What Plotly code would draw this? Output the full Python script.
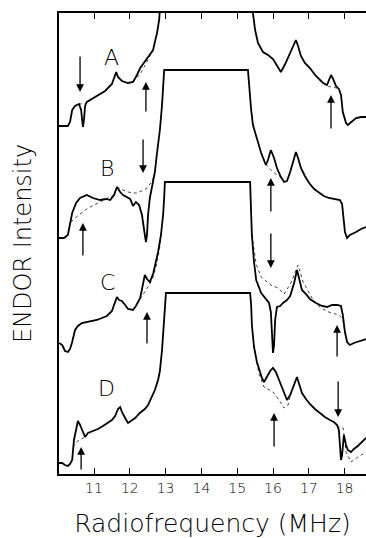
import plotly.graph_objects as go

# ENDOR spectra A-D: frequency (MHz) and intensity (arb. units, stacked)
a_freq = [10.02, 10.27, 10.33, 10.39, 10.47, 10.58, 10.64, 10.67, 10.69, 10.72, 10.75, 10.80, 11.03, 11.31,
          11.50, 11.59, 11.62, 11.67, 11.78, 11.95, 12.09, 12.20, 12.29, 12.37, 12.45, 12.51, 12.59, 12.65,
          12.70, 12.76, 12.82, 12.84, 12.87, 12.90, 15.40, 15.42, 15.44, 15.50, 15.58, 15.72, 15.86, 16.00,
          16.11, 16.22, 16.34, 16.48, 16.59, 16.64, 16.70, 16.78, 16.89, 17.03, 17.20, 17.40, 17.51, 17.56,
          17.62, 17.68, 17.76, 17.84, 17.90, 17.95, 18.04, 18.09, 18.18, 18.32, 18.46, 18.60]
a_int = [348, 348, 352, 364, 368, 370, 364, 350, 347, 354, 368, 372, 377, 383,
         390, 401, 402, 397, 393, 391, 392, 399, 406, 410, 414, 417, 420, 424,
         432, 441, 454, 461, 480, 500, 500, 480, 461, 444, 431, 422, 419, 415,
         409, 402, 410, 422, 430, 434, 428, 418, 411, 406, 398, 391, 389, 394,
         399, 395, 388, 385, 379, 362, 351, 349, 352, 356, 357, 357]
a_dot_freq = [10.58, 10.64, 10.69, 10.75, None, 12.09, 12.20, 12.29, 12.37, 12.45, 12.51, 12.59, None,
              17.40, 17.51, 17.62, 17.68, 17.76, 17.84]
a_dot_int = [370, 370, 371, 370, None, 392, 396, 400, 405, 410, 415, 420, None,
             391, 388, 387, 387, 386, 385]

b_freq = [10.02, 10.16, 10.27, 10.33, 10.39, 10.50, 10.61, 10.80, 10.97, 11.17, 11.34, 11.45, 11.56, 11.64,
          11.73, 11.81, 11.92, 12.01, 12.09, 12.17, 12.26, 12.34, 12.40, 12.45, 12.48, 12.51, 12.56, 12.62,
          12.70, 12.76, 12.84, 12.90, 12.93, 12.96, 15.30, 15.33, 15.39, 15.44, 15.53, 15.67, 15.80, 15.86,
          15.94, 16.03, 16.11, 16.22, 16.31, 16.39, 16.48, 16.59, 16.64, 16.70, 16.78, 16.89, 17.01, 17.15,
          17.29, 17.42, 17.56, 17.73, 17.87, 17.93, 17.98, 18.01, 18.07, 18.15, 18.32, 18.46, 18.60]
b_int = [236, 236, 239, 249, 261, 271, 276, 279, 276, 274, 275, 274, 279, 287,
         282, 279, 277, 275, 268, 272, 269, 259, 244, 232, 239, 259, 276, 286,
         302, 321, 344, 369, 394, 404, 404, 389, 364, 349, 337, 321, 309, 314,
         324, 316, 306, 297, 292, 293, 302, 316, 322, 316, 306, 298, 291, 285,
         281, 278, 276, 275, 274, 270, 256, 242, 236, 239, 242, 245, 247]
b_dot_freq = [10.36, 10.47, 10.61, 10.80, 11.00, 11.17, 11.34, 11.45, 11.56, None,
              11.64, 11.73, 11.81, 11.95, 12.09, 12.20, 12.34, 12.45, 12.51, 12.62, 12.70, None,
              15.67, 15.80, 15.94, 16.08, 16.22]
b_dot_int = [252, 256, 260, 265, 269, 272, 275, 277, 279, None,
             287, 285, 284, 282, 281, 281, 283, 285, 288, 292, 302, None,
             321, 310, 304, 300, 297]

c_freq = [10.02, 10.11, 10.19, 10.27, 10.33, 10.39, 10.47, 10.55, 10.66, 10.80, 10.94, 11.08, 11.22, 11.36,
          11.50, 11.59, 11.64, 11.70, 11.78, 11.87, 11.95, 12.09, 12.17, 12.29, 12.37, 12.42, 12.48, 12.56,
          12.65, 12.70, 12.79, 12.87, 12.93, 12.96, 12.98, 15.36, 15.39, 15.41, 15.47, 15.53, 15.67, 15.80,
          15.89, 15.94, 15.97, 16.00, 16.03, 16.06, 16.11, 16.20, 16.28, 16.39, 16.48, 16.59, 16.67, 16.73,
          16.81, 16.92, 17.03, 17.20, 17.37, 17.51, 17.65, 17.79, 17.90, 17.95, 18.01, 18.07, 18.15, 18.26,
          18.43, 18.60]
c_int = [131, 129, 123, 122, 125, 132, 144, 148, 151, 152, 153, 154, 156, 158,
         163, 171, 177, 174, 173, 169, 165, 164, 168, 176, 189, 199, 195, 192,
         200, 208, 222, 239, 259, 276, 292, 292, 269, 239, 212, 194, 181, 175,
         171, 162, 144, 121, 129, 154, 167, 168, 171, 174, 178, 191, 204, 196,
         184, 180, 175, 171, 168, 167, 169, 169, 168, 159, 142, 132, 129, 131,
         133, 135]
c_dot_freq = [12.29, 12.42, 12.56, 12.65, 12.74, 12.84, 12.87, None,
              15.41, 15.47, 15.53, 15.67, 15.80, 15.94, 16.14, 16.31, 16.50, 16.70, 16.84, 17.12,
              17.34, 17.56, 17.84, 17.95, 18.01]
c_dot_int = [175, 182, 190, 197, 208, 228, 239, None,
             239, 222, 210, 197, 193, 189, 186, 180, 191, 209, 192, 174,
             166, 162, 159, 155, 142]

d_freq = [10.02, 10.11, 10.19, 10.27, 10.33, 10.39, 10.44, 10.50, 10.55, 10.61, 10.69, 10.75, 10.83, 10.97,
          11.11, 11.25, 11.39, 11.50, 11.59, 11.67, 11.73, 11.78, 11.87, 11.95, 12.03, 12.15, 12.28, 12.42,
          12.51, 12.59, 12.70, 12.79, 12.84, 12.90, 12.93, 12.96, 12.98, 13.01, 15.36, 15.39, 15.41, 15.47,
          15.55, 15.61, 15.69, 15.75, 15.83, 15.92, 16.00, 16.08, 16.17, 16.25, 16.34, 16.39, 16.48, 16.59,
          16.67, 16.73, 16.81, 16.92, 17.03, 17.17, 17.31, 17.45, 17.59, 17.70, 17.79, 17.84, 17.87, 17.90,
          17.93, 17.96, 17.98, 18.04, 18.09, 18.18, 18.26, 18.37, 18.49, 18.60]
d_int = [11, 11, 9, 8, 10, 14, 34, 46, 53, 49, 41, 37, 41, 43,
         45, 48, 51, 54, 58, 65, 67, 62, 56, 51, 53, 56, 61, 65,
         69, 76, 84, 94, 103, 124, 139, 157, 174, 181, 181, 169, 149, 127,
         112, 104, 96, 92, 97, 103, 106, 102, 94, 86, 77, 74, 79, 89,
         97, 90, 81, 75, 70, 65, 61, 57, 54, 52, 49, 44, 29, 14,
         19, 32, 39, 29, 24, 22, 25, 28, 32, 36]
d_dot_freq = [10.42, 10.47, 10.55, 10.66, 10.75, None,
              15.55, 15.61, 15.75, 15.92, 16.00, 16.17, 16.31, 16.42, 16.50, None,
              17.68, 17.76, 17.84, 17.96, 18.04, 18.18, 18.37, 18.54, 18.60]
d_dot_int = [27, 31, 33, 35, 37, None,
             112, 100, 87, 83, 82, 74, 66, 69, 81, None,
             53, 49, 47, 46, 22, 12, 17, 21, 22]

# spectrum labels and where each one is written
labels = ["A", "B", "C", "D"]
label_freq = [11.50, 11.36, 11.39, 11.36]
label_int = [417, 306, 192, 86]

# arrows marking resonances: (frequency, tail intensity, head intensity)
arrow_freq = [10.61, 12.45, 17.62, 12.37, 10.69, 15.94, 15.94, 12.48, 17.79, 10.64, 16.03, 17.82]
arrow_tail = [419, 361, 344, 336, 217, 261, 242, 129, 116, 3, 26, 94]
arrow_head = [382, 392, 379, 301, 251, 296, 206, 162, 149, 27, 61, 57]

tick_vals = [11, 12, 13, 14, 15, 16, 17, 18]

solid = [(a_freq, a_int), (b_freq, b_int), (c_freq, c_int), (d_freq, d_int)]
dotted = [(a_dot_freq, a_dot_int), (b_dot_freq, b_dot_int),
          (c_dot_freq, c_dot_int), (d_dot_freq, d_dot_int)]
for f, i in solid + dotted:
    assert len(f) == len(i)

FONT = "DejaVu Sans"
fig = go.Figure()

for f, i in dotted:
    fig.add_trace(go.Scatter(x=f, y=i, mode="lines", connectgaps=False, hoverinfo="skip",
                             line=dict(color="#444444", width=1, dash="dot")))
for f, i in solid:
    fig.add_trace(go.Scatter(x=f, y=i, mode="lines", hoverinfo="skip",
                             line=dict(color="black", width=1.8)))

for x, y0, y1 in zip(arrow_freq, arrow_tail, arrow_head):
    fig.add_annotation(x=x, y=y1, ax=x, ay=y0, xref="x", yref="y", axref="x", ayref="y",
                       text="", showarrow=True, arrowhead=2, arrowsize=1.2,
                       arrowwidth=1.3, arrowcolor="black")

for t, x, y in zip(labels, label_freq, label_int):
    fig.add_annotation(x=x, y=y, xref="x", yref="y", text=t, showarrow=False,
                       font=dict(family=FONT, size=22, color="black", weight=200))

fig.update_layout(
    width=366, height=538,
    margin=dict(l=59, r=0, t=13, b=64),
    paper_bgcolor="white", plot_bgcolor="white",
    showlegend=False,
    font=dict(family=FONT, color="black"),
    xaxis=dict(range=[10.022, 18.598], tickvals=tick_vals, ticktext=[str(v) for v in tick_vals],
               ticks="inside", ticklen=6, tickwidth=1.4, tickcolor="black",
               showline=True, linewidth=1.8, linecolor="black", mirror="ticks",
               showgrid=False, zeroline=False,
               tickfont=dict(family=FONT, size=14, color="black", weight=200),
               title=dict(text="Radiofrequency (MHz)", standoff=23,
                          font=dict(family=FONT, size=25, color="black", weight=200))),
    yaxis=dict(range=[0, 461], showticklabels=False, ticks="",
               showline=True, linewidth=1.8, linecolor="black",
               showgrid=False, zeroline=False,
               title=dict(text="ENDOR Intensity", standoff=19,
                          font=dict(family=FONT, size=24, color="black", weight=200))),
)

fig.write_html("out.html")
